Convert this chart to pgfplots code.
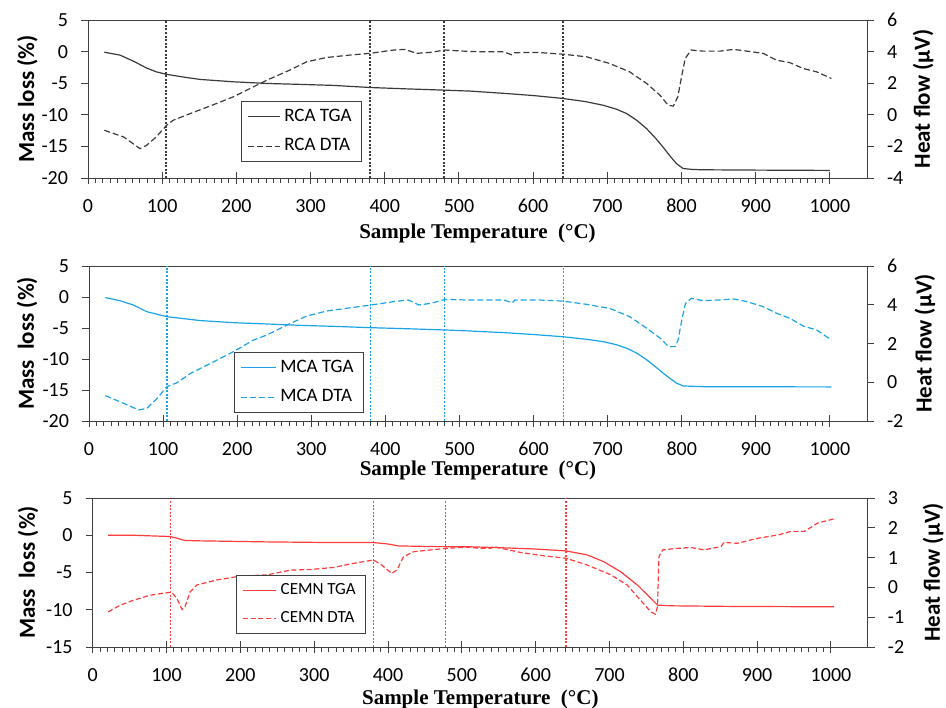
\documentclass[border=0pt]{standalone}
\usepackage{fontspec}
\setmainfont{Carlito}
\newfontfamily\timesfont{Liberation Serif}
\usepackage{pgfplots}
\pgfplotsset{compat=1.18}

\definecolor{spine}{HTML}{404040}
\definecolor{rcacol}{HTML}{3A3A3A}
\definecolor{mcacol}{HTML}{1AA3E8}
\definecolor{cemncol}{HTML}{FF3C3C}

\pgfplotsset{
  panel/.style={
    scale only axis, xmin=0, xmax=1050,
    axis line style={spine, line width=0.5pt},
    every tick/.style={spine, line width=0.5pt},
    tick label style={font=\fontsize{10}{12}\selectfont},
  },
  % frame and temperature axis
  xpanel/.style={
    panel,
    xtick={0,100,...,1000},
    xticklabels={0,100,200,300,400,500,600,700,800,900,1000},
    minor x tick num=9, xtick pos=bottom,
    tick align=center, major tick length=6pt, minor tick length=2.5pt,
    minor x tick style={yshift=-1.25pt},
    ytick=\empty,
    xticklabel style={anchor=center, yshift=-11pt},
    every axis x label/.style={at={(axis description cs:0.5,#1)}, anchor=center,
      font=\timesfont\bfseries\fontsize{10.5}{12}\selectfont},
    xlabel={Sample Temperature\ \ (°C)},
  },
  % mass loss axis
  lpanel/.style={
    panel, axis y line*=left, axis x line=none,
    tick align=outside, major tick length=3.5pt,
    yticklabel style={xshift=-3pt},
    ylabel style={at={(axis description cs:#1,0.5)}, anchor=center, rotate=0,
      font=\bfseries\fontsize{11.5}{14}\selectfont},
  },
  % heat flow axis
  rpanel/.style={
    panel, axis y line*=right, axis x line=none,
    tick align=outside, major tick length=3.5pt,
    yticklabel style={xshift=3pt},
    ylabel style={at={(axis description cs:#1,0.5)}, anchor=center, rotate=0,
      font=\bfseries\fontsize{11.5}{14}\selectfont},
    legend cell align=left,
  },
  tga/.style={line width=0.6pt},
  dta/.style={line width=0.6pt, dash pattern=on 3pt off 1.5pt},
  vmark/.style={line width=0.7pt, dash pattern=on 1pt off 0.8pt, forget plot},
  leg/.style={legend image code/.code={\draw[##1] (0pt,0pt) -- (#1,0pt);}},
}

\begin{document}
\begin{tikzpicture}
\path[use as bounding box] (0pt,0pt) rectangle (473pt,-353.5pt);

% ---------------- RCA ----------------
\begin{axis}[xpanel=-0.348, at={(44pt,-10pt)}, anchor=north west,
  width=389.5pt, height=79pt, ymin=-20, ymax=5]
  \addplot[vmark, rcacol] coordinates {(105,-20) (105,5)};
  \addplot[vmark, rcacol] coordinates {(380,-20) (380,5)};
  \addplot[vmark, rcacol] coordinates {(480,-20) (480,5)};
  \addplot[vmark, rcacol] coordinates {(640,-20) (640,5)};
\end{axis}
\begin{axis}[lpanel=-0.078, at={(44pt,-10pt)}, anchor=north west,
  width=389.5pt, height=79pt, ymin=-20, ymax=5,
  ytick={-20,-15,-10,-5,0,5}, yticklabels={-20,-15,-10,-5,0,5},
  ylabel={Mass loss (\%)}]
  \addplot[tga, rcacol] coordinates {
    (22,-0.1) (43,-0.55) (61,-1.5) (79,-2.6) (92,-3.2) (106,-3.6) (130,-4.05)
    (151,-4.4) (196,-4.78) (241,-5.04) (290,-5.2) (331,-5.35) (380,-5.68)
    (430,-5.9) (481,-6.1) (515,-6.25) (560,-6.6) (600,-6.95) (639,-7.4)
    (670,-7.9) (694,-8.48) (712,-9.1) (726,-9.8) (740,-10.9) (753,-12.2)
    (765,-13.7) (775,-15.1) (785,-16.6) (793,-17.7) (802,-18.5) (815,-18.65)
    (829,-18.7) (900,-18.75) (1000,-18.8)};
\end{axis}
\begin{axis}[rpanel=1.072, leg=16pt, at={(44pt,-10pt)}, anchor=north west,
  width=389.5pt, height=79pt, ymin=-4, ymax=6,
  ytick={-4,-2,0,2,4,6}, yticklabels={-4,-2,0,2,4,6},
  ylabel={Heat flow (μV)},
  legend style={at={(0.196,0.10)}, anchor=south west, draw=spine, fill=white,
    font=\fontsize{9.5}{11}\selectfont, row sep=3pt, inner xsep=3pt, inner ysep=2pt}]
  \addlegendimage{tga, rcacol}
  \addlegendentry{RCA TGA}
  \addplot[dta, rcacol] coordinates {
    (22,-0.98) (48,-1.4) (70,-2.14) (79,-1.93) (92,-1.4) (106,-0.66) (115,-0.34)
    (138,0.08) (173,0.71) (196,1.14) (223,1.77) (241,2.19) (272,2.83) (295,3.36)
    (322,3.63) (353,3.78) (380,3.89) (412,4.1) (427,4.14) (443,3.89) (461,3.95)
    (481,4.1) (506,4.03) (528,3.99) (560,3.99) (571,3.8) (575,3.93) (605,3.95)
    (639,3.84) (672,3.67) (703,3.25) (730,2.72) (753,1.98) (771,1.24) (782,0.6)
    (789,0.55) (795,1.14) (800,2.4) (805,3.57) (813,4.1) (829,4.03) (852,4.03)
    (870,4.14) (888,4.03) (910,3.89) (928,3.46) (946,3.3) (964,2.93) (982,2.72)
    (1002,2.3)};
  \addlegendentry{RCA DTA}
\end{axis}

% ---------------- MCA ----------------
\begin{axis}[xpanel=-0.322, at={(44.5pt,-133pt)}, anchor=north west,
  width=389pt, height=77.5pt, ymin=-20, ymax=5]
  \addplot[vmark, mcacol] coordinates {(105,-20) (105,5)};
  \addplot[vmark, mcacol] coordinates {(380,-20) (380,5)};
  \addplot[vmark, mcacol] coordinates {(480,-20) (480,5)};
  \addplot[vmark, mcacol] coordinates {(640,-20) (640,5)};
\end{axis}
\begin{axis}[lpanel=-0.0797, at={(44.5pt,-133pt)}, anchor=north west,
  width=389pt, height=77.5pt, ymin=-20, ymax=5,
  ytick={-20,-15,-10,-5,0,5}, yticklabels={-20,-15,-10,-5,0,5},
  ylabel={Mass\ \ loss (\%)}]
  \addplot[tga, mcacol] coordinates {
    (22,-0.1) (42,-0.6) (60,-1.3) (78,-2.37) (105,-3.17) (150,-3.8) (195,-4.14)
    (240,-4.35) (285,-4.57) (330,-4.73) (381,-4.95) (430,-5.12) (481,-5.32)
    (514,-5.48) (560,-5.75) (600,-6.05) (639,-6.4) (670,-6.8) (694,-7.2)
    (712,-7.7) (726,-8.28) (740,-9.1) (753,-10.16) (765,-11.3) (775,-12.3)
    (785,-13.2) (793,-13.9) (802,-14.35) (829,-14.46) (900,-14.48) (1002,-14.5)};
\end{axis}
\begin{axis}[rpanel=1.0745, leg=17.5pt, at={(44.5pt,-133pt)}, anchor=north west,
  width=389pt, height=77.5pt, ymin=-2, ymax=6,
  ytick={-2,0,2,4,6}, yticklabels={-2,0,2,4,6},
  ylabel={Heat flow (μV)},
  legend style={at={(0.186,0.05)}, anchor=south west, draw=spine, fill=white,
    font=\fontsize{9.5}{11}\selectfont, row sep=3pt, inner xsep=3pt, inner ysep=2pt}]
  \addlegendimage{tga, mcacol}
  \addlegendentry{MCA TGA}
  \addplot[dta, mcacol] coordinates {
    (22,-0.69) (47,-1.09) (67,-1.43) (78,-1.35) (92,-0.83) (105,-0.23) (119,-0.02)
    (137,0.46) (173,1.15) (195,1.58) (222,2.18) (240,2.44) (272,3.04) (294,3.42)
    (321,3.68) (348,3.82) (381,3.99) (411,4.16) (431,4.25) (445,3.99) (461,4.07)
    (481,4.28) (506,4.25) (528,4.25) (560,4.25) (571,4.1) (575,4.25) (605,4.25)
    (639,4.19) (672,4.02) (703,3.81) (730,3.38) (753,2.78) (771,2.27) (782,1.84)
    (791,1.84) (795,2.18) (800,3.21) (805,4.07) (813,4.33) (829,4.21) (852,4.25)
    (870,4.3) (888,4.16) (910,3.9) (928,3.56) (946,3.3) (964,2.9) (982,2.7)
    (1002,2.18)};
  \addlegendentry{MCA DTA}
\end{axis}

% ---------------- CEMN ----------------
\begin{axis}[xpanel=-0.349, at={(46.35pt,-249pt)}, anchor=north west,
  width=387.6pt, height=74.5pt, ymin=-15, ymax=5]
  \addplot[vmark, cemncol] coordinates {(105,-15) (105,5)};
  \addplot[vmark, cemncol] coordinates {(380,-15) (380,5)};
  \addplot[vmark, cemncol] coordinates {(478,-15) (478,5)};
  \addplot[vmark, cemncol] coordinates {(641,-15) (641,5)};
\end{axis}
\begin{axis}[lpanel=-0.0835, at={(46.35pt,-249pt)}, anchor=north west,
  width=387.6pt, height=74.5pt, ymin=-15, ymax=5,
  ytick={-15,-10,-5,0,5}, yticklabels={-15,-10,-5,0,5},
  ylabel={Mass\ \ loss (\%)}]
  \addplot[tga, cemncol] coordinates {
    (21,0) (55,0) (105,-0.17) (114,-0.39) (125,-0.7) (145,-0.75) (236,-0.89)
    (326,-0.98) (380,-0.98) (399,-1.16) (414,-1.43) (462,-1.52) (512,-1.55)
    (560,-1.7) (600,-1.85) (641,-2.1) (670,-2.64) (692,-3.54) (715,-4.89)
    (738,-6.7) (756,-8.48) (765,-9.38) (783,-9.47) (873,-9.56) (1004,-9.6)};
\end{axis}
\begin{axis}[rpanel=1.084, leg=16.5pt, at={(46.35pt,-249pt)}, anchor=north west,
  width=387.6pt, height=74.5pt, ymin=-2, ymax=3,
  ytick={-2,-1,0,1,2,3}, yticklabels={-2,-1,0,1,2,3},
  ylabel={Heat flow (μV)},
  legend style={at={(0.185,0.087)}, anchor=south west, draw=spine, fill=white,
    font=\fontsize{8.5}{10}\selectfont, row sep=3pt, inner xsep=3pt, inner ysep=2pt}]
  \addlegendimage{tga, cemncol}
  \addlegendentry{CEMN TGA}
  \addplot[dta, cemncol, dash pattern=on 2.5pt off 1.3pt] coordinates {
    (21,-0.82) (37,-0.6) (55,-0.43) (78,-0.26) (100,-0.18) (107,-0.16) (114,-0.37)
    (121,-0.74) (125,-0.65) (132,-0.15) (141,0.08) (168,0.25) (200,0.38)
    (236,0.42) (268,0.58) (295,0.6) (326,0.67) (354,0.81) (380,0.92) (390,0.78)
    (405,0.47) (412,0.58) (421,1.03) (435,1.2) (478,1.31) (507,1.35) (525,1.31)
    (539,1.31) (543,1.37) (580,1.17) (611,1.06) (641,0.98) (670,0.75) (702,0.42)
    (724,0.08) (742,-0.43) (756,-0.82) (762,-0.9) (765,-0.65) (767,1.03)
    (772,1.26) (792,1.31) (810,1.34) (828,1.26) (851,1.37) (855,1.51) (873,1.48)
    (901,1.65) (928,1.76) (946,1.88) (964,1.88) (982,2.16) (1004,2.3)};
  \addlegendentry{CEMN DTA}
\end{axis}
\end{tikzpicture}
\end{document}
